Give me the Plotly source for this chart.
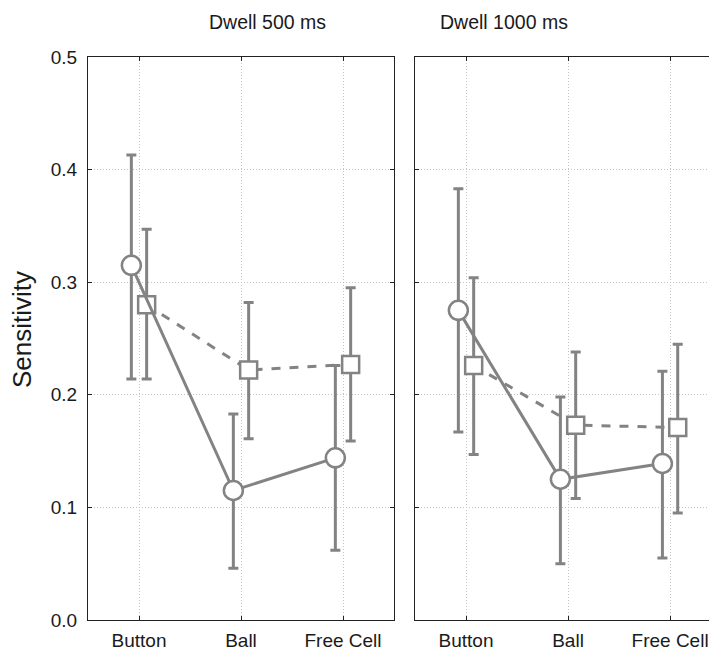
import plotly.graph_objects as go

categories = ["Button", "Ball", "Free Cell"]
panels = ["Dwell 500 ms", "Dwell 1000 ms"]

# Panel 1 (Dwell 500 ms)
p1_circle = [0.315, 0.115, 0.144]
p1_circle_hi = [0.413, 0.183, 0.226]
p1_circle_lo = [0.214, 0.046, 0.062]
p1_square = [0.280, 0.222, 0.227]
p1_square_hi = [0.347, 0.282, 0.295]
p1_square_lo = [0.214, 0.161, 0.159]

# Panel 2 (Dwell 1000 ms)
p2_circle = [0.275, 0.125, 0.139]
p2_circle_hi = [0.383, 0.198, 0.221]
p2_circle_lo = [0.167, 0.050, 0.055]
p2_square = [0.226, 0.173, 0.171]
p2_square_hi = [0.304, 0.238, 0.245]
p2_square_lo = [0.147, 0.108, 0.095]

yticks = [0.0, 0.1, 0.2, 0.3, 0.4, 0.5]
ytick_labels = ["0.0", "0.1", "0.2", "0.3", "0.4", "0.5"]

GRAY = "#838383"
OFF = 0.075
FONT = "Arial, Liberation Sans"

fig = go.Figure()

def add_series(vals, hi, lo, offset, symbol, dash, xa, ya, size):
    xs = [i + offset for i in range(len(vals))]
    fig.add_trace(go.Scatter(
        x=xs, y=vals, xaxis=xa, yaxis=ya, mode="lines+markers",
        line=dict(color=GRAY, width=3, dash=dash),
        marker=dict(symbol=symbol, size=size, color="white",
                    line=dict(color=GRAY, width=2.5)),
        error_y=dict(type="data", symmetric=False,
                     array=[h - v for h, v in zip(hi, vals)],
                     arrayminus=[v - l for l, v in zip(lo, vals)],
                     color=GRAY, thickness=3, width=5),
        showlegend=False,
    ))

add_series(p1_square, p1_square_hi, p1_square_lo, OFF, "square", "dash", "x", "y", 17)
add_series(p1_circle, p1_circle_hi, p1_circle_lo, -OFF, "circle", "solid", "x", "y", 19)
add_series(p2_square, p2_square_hi, p2_square_lo, OFF, "square", "dash", "x2", "y2", 17)
add_series(p2_circle, p2_circle_hi, p2_circle_lo, -OFF, "circle", "solid", "x2", "y2", 19)

W = 709
H = 646
axis_common = dict(showline=True, linecolor="#222222", linewidth=1, mirror="ticks",
                   ticks="inside", ticklen=4, tickcolor="#222222",
                   showgrid=True, gridcolor="#c4c4c4", griddash="1px,2px", gridwidth=1,
                   zeroline=False, tickfont=dict(family=FONT, size=19, color="#1a1a1a"))

fig.update_layout(
    width=W, height=H,
    margin=dict(l=0, r=0, t=49, b=34),
    plot_bgcolor="white", paper_bgcolor="white",
    xaxis=dict(domain=[80 / W, 386 / W], range=[-0.5, 2.5], tickvals=[0, 1, 2],
               ticktext=categories, anchor="y", ticklabelstandoff=3, **axis_common),
    yaxis=dict(domain=[0, 1], range=[0, 0.5], tickvals=yticks, ticktext=ytick_labels,
               anchor="x", ticklabelstandoff=6, **axis_common),
    xaxis2=dict(domain=[407 / W, 1.0], range=[-0.5, 2.46], tickvals=[0, 1, 2],
                ticktext=categories, anchor="y2", ticklabelstandoff=3, **axis_common),
    yaxis2=dict(domain=[0, 1], range=[0, 0.5], tickvals=yticks, showticklabels=False,
                anchor="x2", **axis_common),
)

fig.add_annotation(text=panels[0], x=259 / W, y=1, xref="paper", yref="paper",
                   yshift=35, yanchor="middle", showarrow=False,
                   font=dict(family=FONT, size=19.5, color="#1a1a1a"))
fig.add_annotation(text=panels[1], x=562 / W, y=1, xref="paper", yref="paper",
                   yshift=35, yanchor="middle", showarrow=False,
                   font=dict(family=FONT, size=19.5, color="#1a1a1a"))
fig.add_annotation(text="Sensitivity", x=14 / W, y=(612 - 322) / (612 - 49), xref="paper",
                   yref="paper", textangle=-90, showarrow=False, xanchor="center",
                   yanchor="middle",
                   font=dict(family=FONT, size=26, color="#1a1a1a"))

fig.write_html("out.html")
